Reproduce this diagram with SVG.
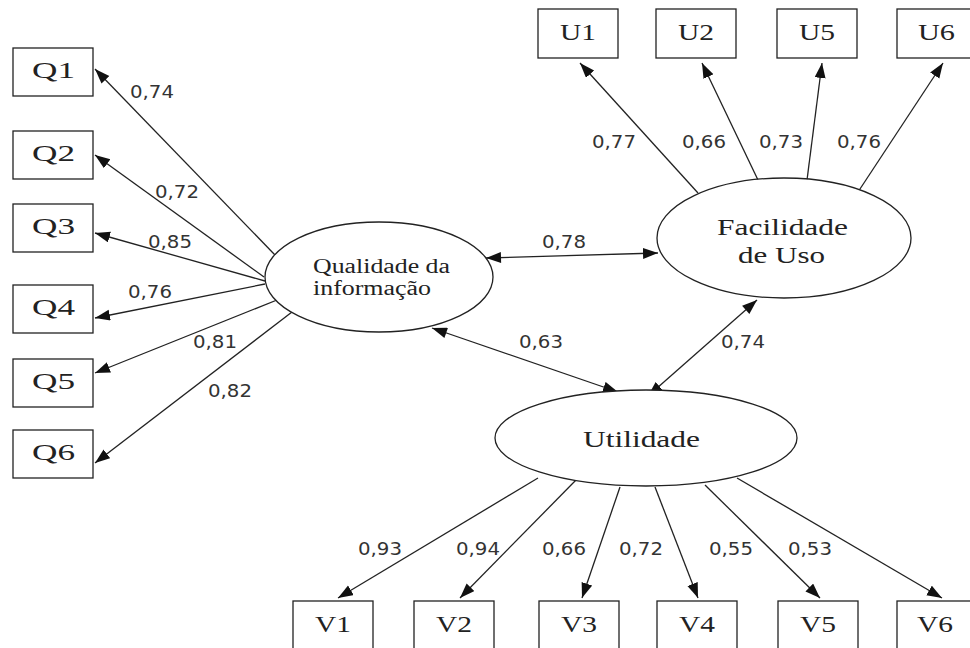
<svg xmlns="http://www.w3.org/2000/svg" width="970" height="648" viewBox="0 0 970 648">
<style>
.box{fill:#fff;stroke:#222;stroke-width:1.3}
.ell{fill:#fff;stroke:#222;stroke-width:1.3}
.lbl{font-family:"Liberation Serif","Times New Roman",serif;font-size:23px;fill:#222}
.num{font-family:"DejaVu Sans","Liberation Sans",sans-serif;font-size:17px;fill:#333}
.edge{stroke:#222;stroke-width:1.3;fill:none;marker-end:url(#ah)}
.dbl{stroke:#222;stroke-width:1.3;fill:none;marker-start:url(#ahs);marker-end:url(#ah)}
</style>
<defs>
<marker id="ah" markerUnits="userSpaceOnUse" markerWidth="17" markerHeight="13" refX="15" refY="5.5" orient="auto"><path d="M0,0 L15,5.5 L0,11 z" fill="#111"/></marker>
<marker id="ahs" markerUnits="userSpaceOnUse" markerWidth="17" markerHeight="13" refX="0" refY="5.5" orient="auto"><path d="M15,0 L0,5.5 L15,11 z" fill="#111"/></marker>
</defs>
<rect width="970" height="648" fill="#fff"/>
<g id="connectors">
<line class="edge" x1="275" y1="255" x2="95" y2="69"/>
<line class="edge" x1="264" y1="277" x2="95" y2="155"/>
<line class="edge" x1="265" y1="281" x2="95" y2="233"/>
<line class="edge" x1="265" y1="284" x2="95" y2="318"/>
<line class="edge" x1="277" y1="300" x2="95" y2="373"/>
<line class="edge" x1="292" y1="312" x2="95" y2="463"/>
<line class="edge" x1="698" y1="193" x2="580" y2="63"/>
<line class="edge" x1="758" y1="180" x2="702" y2="63"/>
<line class="edge" x1="807" y1="180" x2="822" y2="63"/>
<line class="edge" x1="858" y1="192" x2="943" y2="63"/>
<line class="dbl" x1="486" y1="258" x2="658" y2="253"/>
<line class="dbl" x1="432" y1="328" x2="618" y2="392"/>
<line class="dbl" x1="757" y1="300" x2="648" y2="396"/>
<line class="edge" x1="538" y1="478" x2="338" y2="598"/>
<line class="edge" x1="577" y1="479" x2="460" y2="598"/>
<line class="edge" x1="620" y1="487" x2="582" y2="598"/>
<line class="edge" x1="655" y1="487" x2="698" y2="598"/>
<line class="edge" x1="705" y1="485" x2="820" y2="598"/>
<line class="edge" x1="737" y1="478" x2="942" y2="598"/>
<text class="num" x="130" y="98" textLength="44" lengthAdjust="spacingAndGlyphs">0,74</text>
<text class="num" x="155" y="198" textLength="44" lengthAdjust="spacingAndGlyphs">0,72</text>
<text class="num" x="148" y="248" textLength="44" lengthAdjust="spacingAndGlyphs">0,85</text>
<text class="num" x="128" y="298" textLength="44" lengthAdjust="spacingAndGlyphs">0,76</text>
<text class="num" x="193" y="348" textLength="44" lengthAdjust="spacingAndGlyphs">0,81</text>
<text class="num" x="208" y="397" textLength="44" lengthAdjust="spacingAndGlyphs">0,82</text>
<text class="num" x="592" y="148" textLength="44" lengthAdjust="spacingAndGlyphs">0,77</text>
<text class="num" x="682" y="148" textLength="44" lengthAdjust="spacingAndGlyphs">0,66</text>
<text class="num" x="759" y="148" textLength="44" lengthAdjust="spacingAndGlyphs">0,73</text>
<text class="num" x="837" y="148" textLength="44" lengthAdjust="spacingAndGlyphs">0,76</text>
<text class="num" x="542" y="248" textLength="44" lengthAdjust="spacingAndGlyphs">0,78</text>
<text class="num" x="519" y="348" textLength="44" lengthAdjust="spacingAndGlyphs">0,63</text>
<text class="num" x="721" y="348" textLength="44" lengthAdjust="spacingAndGlyphs">0,74</text>
<text class="num" x="358" y="555" textLength="44" lengthAdjust="spacingAndGlyphs">0,93</text>
<text class="num" x="456" y="555" textLength="44" lengthAdjust="spacingAndGlyphs">0,94</text>
<text class="num" x="542" y="555" textLength="44" lengthAdjust="spacingAndGlyphs">0,66</text>
<text class="num" x="619" y="555" textLength="44" lengthAdjust="spacingAndGlyphs">0,72</text>
<text class="num" x="709" y="555" textLength="44" lengthAdjust="spacingAndGlyphs">0,55</text>
<text class="num" x="788" y="555" textLength="44" lengthAdjust="spacingAndGlyphs">0,53</text>
</g>
<g id="qualidade"><ellipse class="ell" cx="379" cy="277" rx="114" ry="55"/>
<text class="lbl" style="font-size:20px" x="313" y="273" textLength="137" lengthAdjust="spacingAndGlyphs">Qualidade da</text>
<text class="lbl" style="font-size:20px" x="313" y="295" textLength="118" lengthAdjust="spacingAndGlyphs">informação</text></g>
<g id="facilidade"><ellipse class="ell" cx="784" cy="238" rx="127" ry="60"/>
<text class="lbl" x="717" y="235" textLength="131" lengthAdjust="spacingAndGlyphs">Facilidade</text>
<text class="lbl" x="738" y="263" textLength="87" lengthAdjust="spacingAndGlyphs">de Uso</text></g>
<g id="utilidade"><ellipse class="ell" cx="646" cy="438" rx="151" ry="48"/>
<text class="lbl" x="583" y="447" textLength="117" lengthAdjust="spacingAndGlyphs">Utilidade</text></g>
<g id="Q1"><rect class="box" x="13" y="48" width="80" height="48"/><text class="lbl" x="32" y="78" textLength="43" lengthAdjust="spacingAndGlyphs">Q1</text></g>
<g id="Q2"><rect class="box" x="13" y="131" width="80" height="48"/><text class="lbl" x="32" y="161" textLength="43" lengthAdjust="spacingAndGlyphs">Q2</text></g>
<g id="Q3"><rect class="box" x="13" y="204" width="80" height="48"/><text class="lbl" x="32" y="234" textLength="43" lengthAdjust="spacingAndGlyphs">Q3</text></g>
<g id="Q4"><rect class="box" x="13" y="285" width="80" height="48"/><text class="lbl" x="32" y="315" textLength="43" lengthAdjust="spacingAndGlyphs">Q4</text></g>
<g id="Q5"><rect class="box" x="13" y="359" width="80" height="48"/><text class="lbl" x="32" y="389" textLength="43" lengthAdjust="spacingAndGlyphs">Q5</text></g>
<g id="Q6"><rect class="box" x="13" y="430" width="80" height="48"/><text class="lbl" x="32" y="460" textLength="43" lengthAdjust="spacingAndGlyphs">Q6</text></g>
<g id="U1"><rect class="box" x="538" y="9" width="80" height="49"/><text class="lbl" x="560" y="40" textLength="36" lengthAdjust="spacingAndGlyphs">U1</text></g>
<g id="U2"><rect class="box" x="656" y="9" width="80" height="49"/><text class="lbl" x="678" y="40" textLength="36" lengthAdjust="spacingAndGlyphs">U2</text></g>
<g id="U5"><rect class="box" x="777" y="9" width="80" height="49"/><text class="lbl" x="799" y="40" textLength="36" lengthAdjust="spacingAndGlyphs">U5</text></g>
<g id="U6"><rect class="box" x="897" y="9" width="80" height="49"/><text class="lbl" x="918" y="40" textLength="37" lengthAdjust="spacingAndGlyphs">U6</text></g>
<g id="V1"><rect class="box" x="293" y="601" width="80" height="49"/><text class="lbl" x="315" y="632" textLength="36" lengthAdjust="spacingAndGlyphs">V1</text></g>
<g id="V2"><rect class="box" x="414" y="601" width="80" height="49"/><text class="lbl" x="436" y="632" textLength="36" lengthAdjust="spacingAndGlyphs">V2</text></g>
<g id="V3"><rect class="box" x="539" y="601" width="80" height="49"/><text class="lbl" x="561" y="632" textLength="36" lengthAdjust="spacingAndGlyphs">V3</text></g>
<g id="V4"><rect class="box" x="657" y="601" width="80" height="49"/><text class="lbl" x="679" y="632" textLength="36" lengthAdjust="spacingAndGlyphs">V4</text></g>
<g id="V5"><rect class="box" x="778" y="601" width="80" height="49"/><text class="lbl" x="800" y="632" textLength="36" lengthAdjust="spacingAndGlyphs">V5</text></g>
<g id="V6"><rect class="box" x="897" y="601" width="80" height="49"/><text class="lbl" x="917" y="632" textLength="36" lengthAdjust="spacingAndGlyphs">V6</text></g>
</svg>
